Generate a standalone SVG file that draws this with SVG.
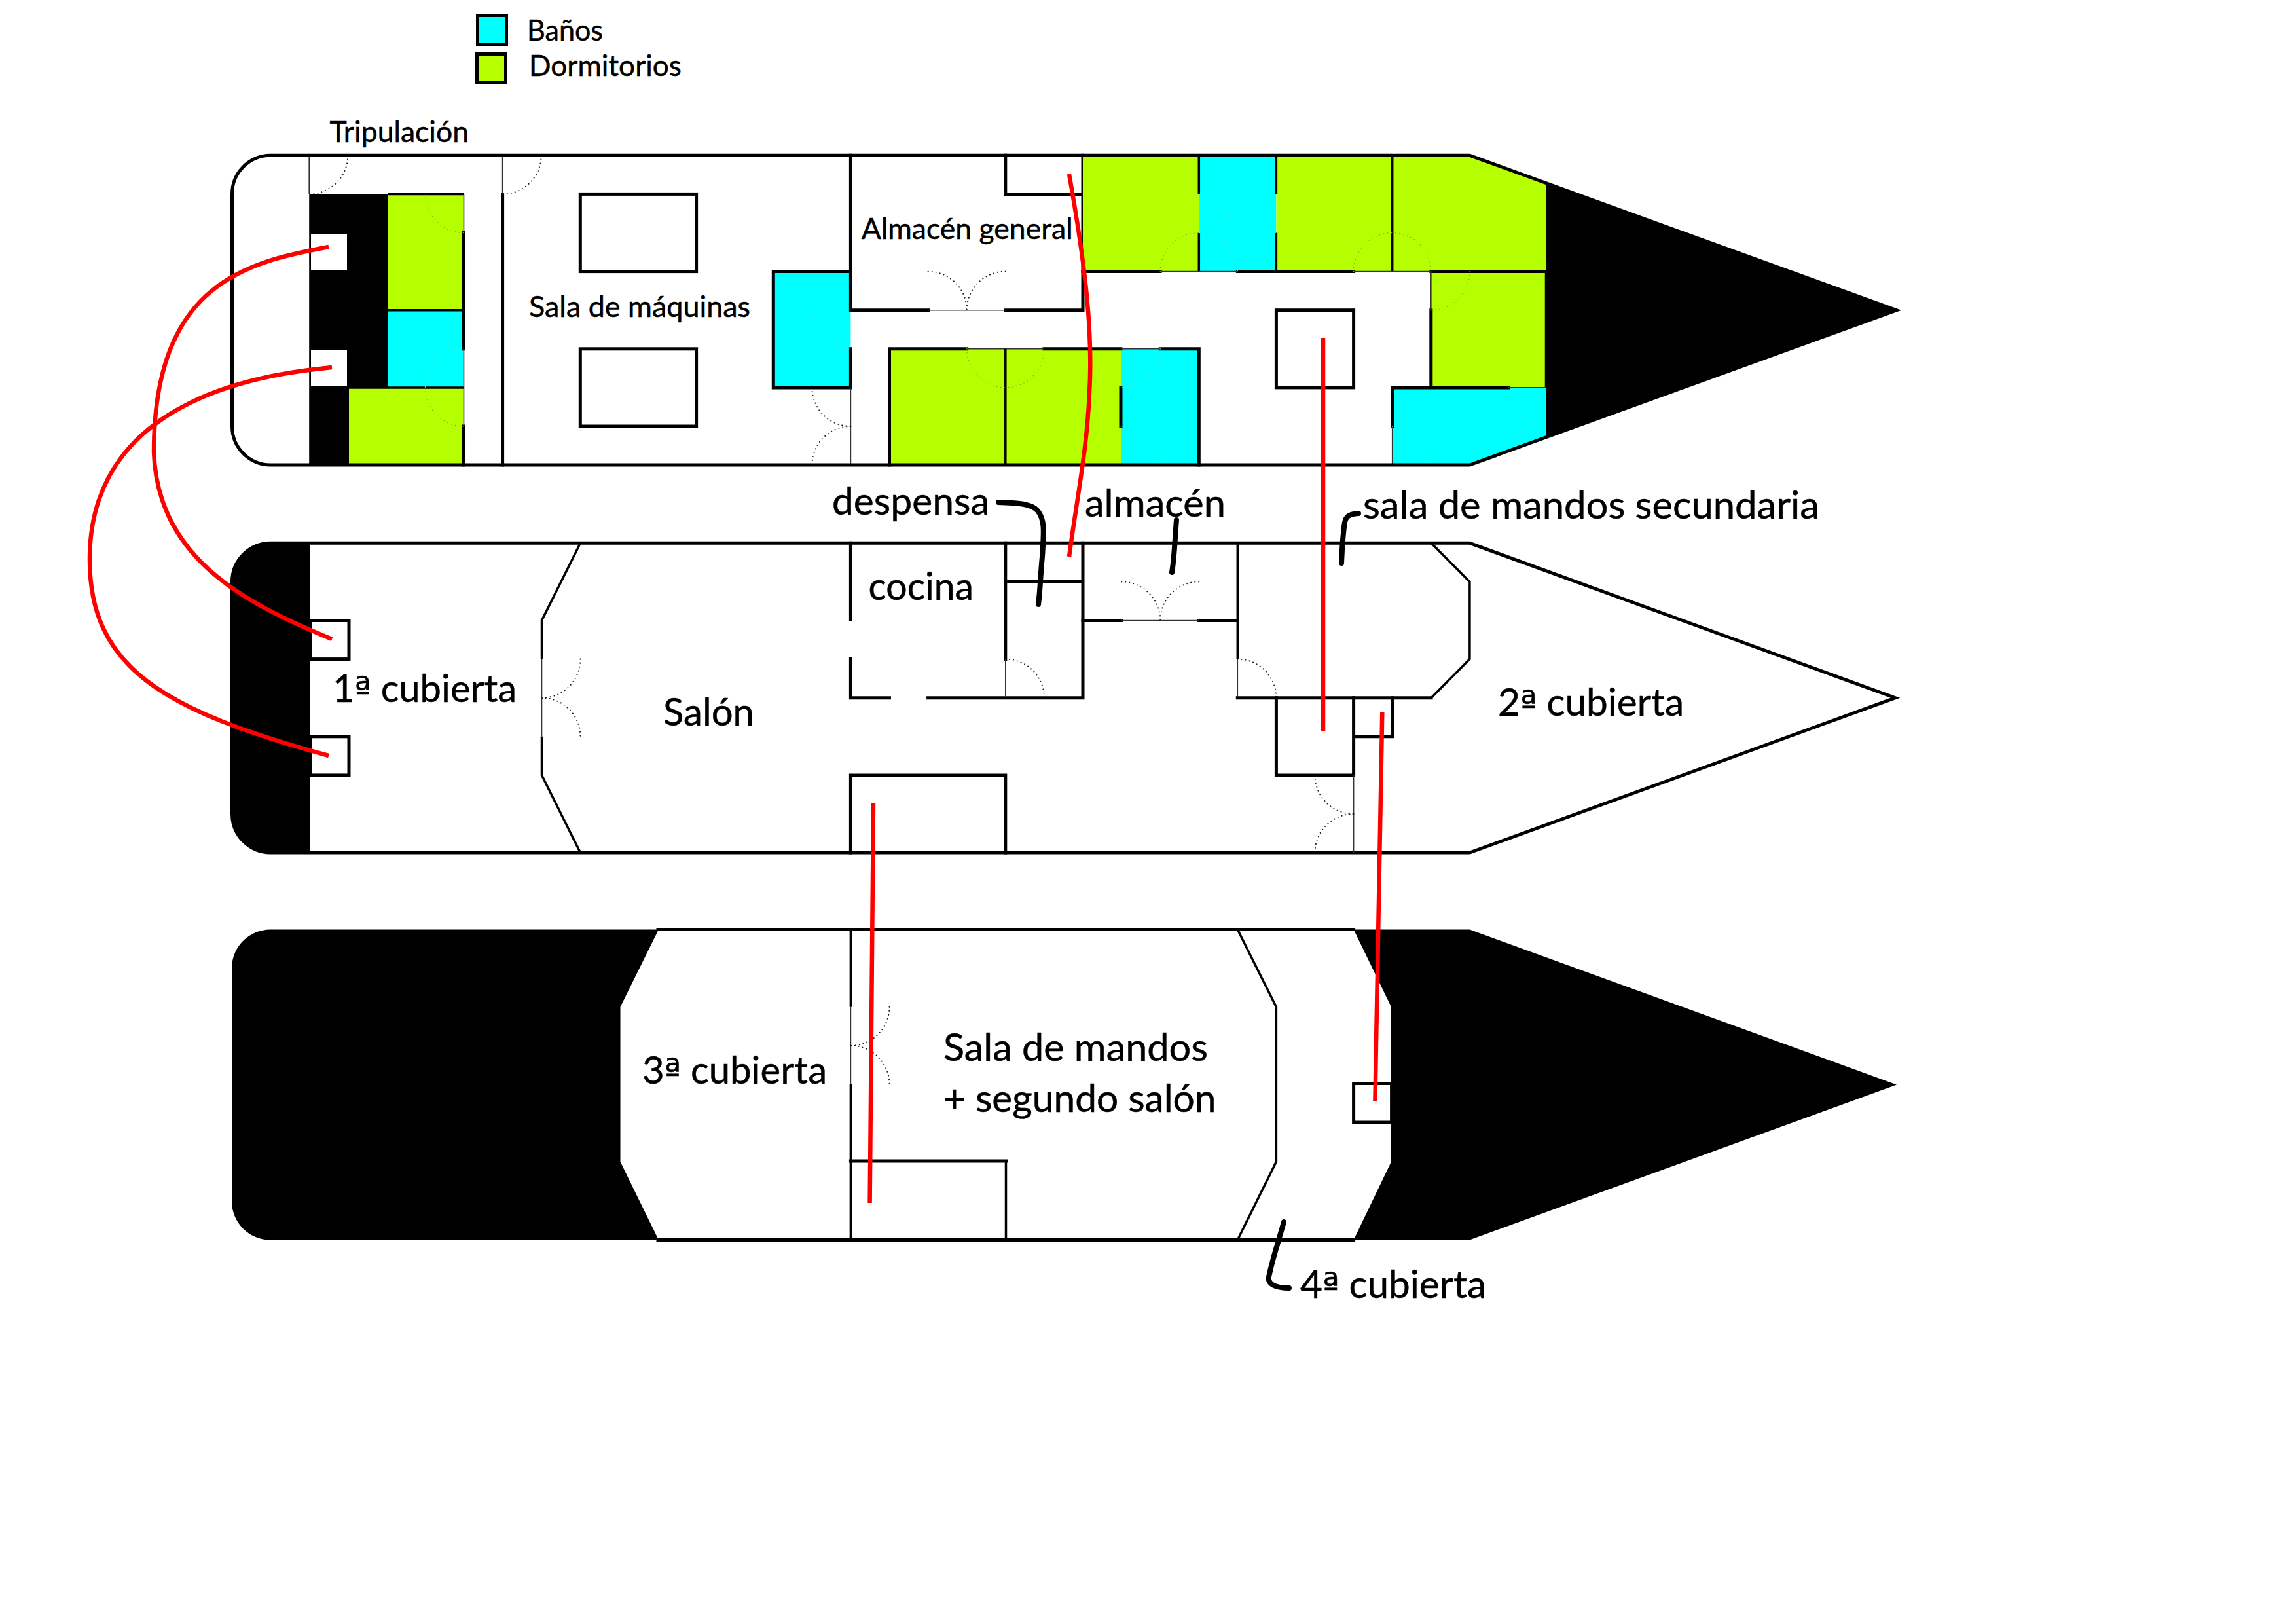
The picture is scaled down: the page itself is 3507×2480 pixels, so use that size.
<svg xmlns="http://www.w3.org/2000/svg" width="3507" height="2480" viewBox="0 0 3507 2480">
<style>
.w{fill:none;stroke:#000;stroke-width:5;stroke-linecap:square}
.m{fill:none;stroke:#000;stroke-width:3.5;stroke-linecap:butt}
.t{fill:none;stroke:#333;stroke-width:1.6}
.b{fill:#000;stroke:none}
.g{fill:#b5ff00;stroke:none}
.c{fill:#00ffff;stroke:none}
.d{fill:none;stroke:#222;stroke-width:2;stroke-linecap:round;stroke-dasharray:.1 6}
.dg{fill:none;stroke:#7fae10;stroke-width:1.4;stroke-linecap:round;stroke-dasharray:.1 6}
.dc{fill:none;stroke:#70e0e0;stroke-width:1.4;stroke-linecap:round;stroke-dasharray:.1 6}
.red{fill:none;stroke:#ff0000;stroke-width:6.5}
.pen{fill:none;stroke:#000;stroke-width:8;stroke-linecap:round;stroke-linejoin:round}
text{font-family:"Lato","Liberation Sans",sans-serif;fill:#000;stroke:#000;stroke-width:.5}
.s{font-size:44px}
.l{font-size:58px}
.o{font-family:"DejaVu Sans",sans-serif;font-size:54px}
</style>
<rect width="3507" height="2480" fill="#fff"/>

<g id="leyenda">
<rect x="729.5" y="23.5" width="44" height="44" fill="#00ffff" stroke="#000" stroke-width="5"/>
<rect x="728.5" y="82.5" width="44" height="44" fill="#b5ff00" stroke="#000" stroke-width="5"/>
<text class="s" x="805" y="62" textLength="116" lengthAdjust="spacingAndGlyphs">Baños</text>
<text class="s" x="808" y="115.5" textLength="233" lengthAdjust="spacingAndGlyphs">Dormitorios</text>
</g>

<g id="cubierta-inferior" transform="translate(0 .8)">
<g id="tripulacion">
<path class="b" d="M472.2 295.6H592V591.1H533V709.3H472.2Z"/>
<rect x="475" y="357" width="55" height="55" fill="#fff"/>
<rect x="475" y="534" width="55" height="55" fill="#fff"/>
<rect class="g" x="592" y="295.6" width="116.5" height="177.3"/>
<rect class="c" x="592" y="472.9" width="116.5" height="118.2"/>
<rect class="g" x="533" y="591.1" width="175.5" height="118.2"/>
<path class="m" d="M592 472.9H708.5M533 591.1H708.5M592 295.6H708.5"/>
<path class="w" d="M708.5 354.7V532M708.5 650.2V709.3"/>
<path class="t" d="M708.5 295.6V354.7M708.5 532V650.2M472.2 236.5V295.6"/>
<path class="d" d="M531.3 236.5A59 59 0 0 1 472.2 295.6"/>
<path class="dg" d="M649.5 295.6A59 59 0 0 0 708.5 354.7M649.5 591.1A59 59 0 0 0 708.5 650.2"/>
<path class="dc" d="M708.5 532A59 59 0 0 0 649.5 591.1"/>
</g>
<g id="sala-maquinas">
<path class="w" d="M767.6 295.6V709.3"/>
<path class="t" d="M767.6 236.5V295.6"/>
<path class="d" d="M826.7 236.5A59 59 0 0 1 767.6 295.6"/>
<rect class="w" x="886.3" y="295.6" width="177.3" height="118.2"/>
<rect class="w" x="886.3" y="532" width="177.3" height="118.2"/>
</g>
<g id="bano-maquinas">
<rect class="c" x="1181.3" y="413.8" width="118.1" height="177.3"/>
<path class="w" d="M1299.4 532V591.1H1181.3V413.8H1299.4"/>
<path class="dc" d="M1240.4 472.9A59 59 0 0 0 1299.4 532"/>
<path class="t" d="M1299.4 591.1V709.3"/>
<path class="d" d="M1240.4 591.1A59 59 0 0 0 1299.4 650.2M1299.4 650.2A59 59 0 0 0 1240.4 709.3"/>
</g>
<g id="almacen-general">
<path class="w" d="M1299.4 236.5V472.9H1417.6M1535.8 472.9H1654V236.5M1535.8 236.5V295.6H1654"/>
<path class="t" d="M1417.6 472.9H1535.8"/>
<path class="d" d="M1417.6 413.8A59 59 0 0 1 1476.7 472.9M1535.8 413.8A59 59 0 0 0 1476.7 472.9"/>
</g>
<g id="camarotes-centro">
<rect class="g" x="1358.5" y="532" width="353.5" height="177.3"/>
<rect class="c" x="1712" y="532" width="119.3" height="177.3"/>
<path class="w" d="M1476.7 532H1358.5V709.3M1594.9 532H1712M1772.2 532H1831.3V709.3M1712 591.1V650.2"/>
<path class="t" d="M1476.7 532H1594.9M1712 532H1772.2"/>
<path class="m" d="M1535.8 532V709.3"/>
<path class="dg" d="M1476.7 532A59 59 0 0 0 1594.9 532"/>
<path class="dc" d="M1772.2 532A59 59 0 0 1 1713.1 591.1M1713.1 650.2A59 59 0 0 1 1772.2 709.3"/>
</g>
<g id="camarotes-popa">
<rect class="g" x="1654" y="236.5" width="177.3" height="177.3"/>
<rect class="c" x="1831.3" y="236.5" width="118.1" height="177.3"/>
<path class="g" d="M1949.4 236.5H2244.9L2361.5 279V413.8H1949.4Z"/>
<path class="g" d="M2185.8 413.8H2361.5V591.1H2185.8Z"/>
<path class="c" d="M2126.7 591.1H2361.5V666.6L2244.9 709.3H2126.7Z"/>
<path class="m" d="M1831.3 236.5V295.6M1831.3 354.7V413.8M1949.4 236.5V295.6M1949.4 354.7V413.8M2126.7 236.5V413.8M2361.5 414V591"/>
<path class="w" d="M1654 413.8H1772.2M1890.3 413.8H2067.6M2185.8 413.8H2361.5M2185.8 472.9V591.1M2126.7 650.2V591.1H2304"/>
<path class="t" d="M1772.2 413.8H1890.3M2067.6 413.8H2185.8M2185.8 413.8V472.9M2126.7 650.2V709.3M2304 591.1H2361.5"/>
<path class="dg" d="M1772.2 413.8A59 59 0 0 1 1831.3 354.7M2067.6 413.8A59 59 0 0 1 2185.8 413.8M2244.9 413.8A59 59 0 0 1 2185.8 472.9"/>
<path class="dc" d="M1831.3 354.7A59 59 0 0 1 1890.3 413.8M1890.3 295.6A59 59 0 0 1 1831.3 354.7M1890.3 295.6A59 59 0 0 0 1949.4 354.7M2304 591.1A59 59 0 0 0 2363.1 650.2M2126.7 650.2A59 59 0 0 1 2185.8 709.3"/>
</g>
<g id="pieza-central"><rect class="w" x="1949.4" y="472.9" width="118.2" height="118.2"/></g>
<g id="proa-inferior"><path class="b" d="M2361.5 279L2897 473L2361.5 666.6Z"/></g>
<g id="casco-inferior"><path class="w" d="M413 236.5H2244.9L2897 473L2244.9 709.3H413A59 59 0 0 1 354.5 650.2V295.6A59 59 0 0 1 413 236.5Z"/></g>
<text class="s" x="503.5" y="216.5" textLength="212.5" lengthAdjust="spacingAndGlyphs">Tripulación</text>
<text class="s" x="808" y="483.5" textLength="338" lengthAdjust="spacingAndGlyphs">Sala de máquinas</text>
<text class="s" x="1315.7" y="364.5" textLength="323" lengthAdjust="spacingAndGlyphs">Almacén general</text>
</g>

<g id="cubierta-2" transform="translate(0 1)">
<g id="popa-2"><path class="b" d="M474 828.3H413A59 59 0 0 0 354 887.4V1242A59 59 0 0 0 413 1301.1H474Z"/></g>
<g id="casco-2"><path class="w" d="M413 828.3H2244.9L2895 1064.7L2244.9 1301.1H413A59 59 0 0 1 354.5 1242V887.4A59 59 0 0 1 413 828.3Z"/></g>
<g id="huecos-popa">
<rect class="w" x="474" y="946.5" width="59" height="59.1"/>
<rect class="w" x="474" y="1123.8" width="59" height="59.1"/>
</g>
<g id="salon">
<path class="m" d="M886.5 828.3L827.5 946.5V1005.6M827.5 1123.8V1182.9L886.5 1301.1"/>
<path class="t" d="M827.5 1005.6V1123.8"/>
<path class="d" d="M886.5 1005.6A59 59 0 0 1 827.5 1064.7M827.5 1064.7A59 59 0 0 1 886.5 1123.8"/>
<path class="w" d="M1299.4 1301.1V1182.9H1535.8V1301.1"/>
</g>
<g id="cocina">
<path class="w" d="M1299.4 828.3V945M1299.4 1005.6V1064.7H1358.5M1417.6 1064.7H1654V828.3M1535.8 828.3V1005.6M1535.8 887.4H1654"/>
<path class="t" d="M1535.8 1005.6V1064.7"/>
<path class="d" d="M1535.8 1005.6A59 59 0 0 1 1594.9 1064.7"/>
</g>
<g id="almacen">
<path class="w" d="M1654 946.5H1713.1M1831.3 946.5H1890.3"/>
<path class="t" d="M1713.1 946.5H1831.3"/>
<path class="d" d="M1713.1 887.4A59 59 0 0 1 1772.2 946.5M1831.3 887.4A59 59 0 0 0 1772.2 946.5"/>
</g>
<g id="sala-mandos-secundaria">
<path class="m" d="M1890.3 828.3V1005.6M2186 828.3L2244.9 887.4V1005.6L2186 1064.7"/>
<path class="t" d="M1890.3 1005.6V1064.7"/>
<path class="w" d="M1890.3 1064.7H2186"/>
<path class="d" d="M1890.3 1005.6A59 59 0 0 1 1949.4 1064.7"/>
<path class="w" d="M1949.4 1064.7V1182.9H2067.6V1064.7M2067.6 1123.8H2126.7V1064.7"/>
<path class="t" d="M2067.6 1182.9V1301.1"/>
<path class="d" d="M2008.5 1182.9A59 59 0 0 0 2067.6 1242M2067.6 1242A59 59 0 0 0 2008.5 1301.1"/>
</g>
<text class="l" x="1271" y="785" textLength="240.5" lengthAdjust="spacingAndGlyphs">despensa</text>
<text class="l" x="1657" y="788" textLength="215" lengthAdjust="spacingAndGlyphs">almacén</text>
<text class="l" x="2082" y="791" textLength="697" lengthAdjust="spacingAndGlyphs">sala de mandos secundaria</text>
<text class="l" x="1326.5" y="915" textLength="160.5" lengthAdjust="spacingAndGlyphs">cocina</text>
<text class="l" x="508" y="1071" textLength="281" lengthAdjust="spacingAndGlyphs">1<tspan class="o">ª</tspan> cubierta</text>
<text class="l" x="1013" y="1107" textLength="139" lengthAdjust="spacingAndGlyphs">Salón</text>
<text class="l" x="2288" y="1092" textLength="284" lengthAdjust="spacingAndGlyphs">2<tspan class="o">ª</tspan> cubierta</text>
</g>

<g id="cubierta-3-4">
<g id="negro-popa"><path class="b" d="M413 1419.5H1006L947.5 1537.7V1774.1L1006 1893.5H413A59 59 0 0 1 354 1834.4V1478.6A59 59 0 0 1 413 1419.5Z"/></g>
<g id="negro-proa"><path class="b" d="M2067.6 1419.5H2244.9L2897 1656.5L2244.9 1893.5H2067.6L2125 1774.1V1537.7Z"/></g>
<g id="casco-3"><path class="w" d="M1005 1419.5H2067.6M1005 1893.5H2067.6"/></g>
<g id="sala-de-mandos">
<path class="m" d="M1299.4 1419.5V1537.7M1299.4 1655.9V1893.5M1890.3 1419.5L1949.4 1537.7V1774.1L1890.3 1893.5"/>
<path class="t" d="M1299.4 1537.7V1655.9"/>
<path class="d" d="M1358.5 1537.7A59 59 0 0 1 1299.4 1596.8M1299.4 1596.8A59 59 0 0 1 1358.5 1655.9"/>
<path class="m" d="M1536.5 1893.5V1773"/>
<path class="w" d="M1299.4 1773H1536.5"/>
</g>
<g id="hueco-4"><rect class="w" x="2067.6" y="1654.5" width="58" height="59.5"/></g>
<text class="l" x="981" y="1655" textLength="282" lengthAdjust="spacingAndGlyphs">3<tspan class="o">ª</tspan> cubierta</text>
<text class="l" x="1441" y="1620" textLength="404" lengthAdjust="spacingAndGlyphs">Sala de mandos</text>
<text class="l" x="1441" y="1697.5" textLength="416.5" lengthAdjust="spacingAndGlyphs">+ segundo salón</text>
<text class="l" x="1986" y="1982" textLength="284" lengthAdjust="spacingAndGlyphs">4<tspan class="o">ª</tspan> cubierta</text>
</g>

<g id="conectores">
<path class="red" d="M502 377C380 400 235 430 235 690C240 850 370 920 507 976"/>
<path class="red" d="M507 561C420 570 140 600 137 850C135 1020 250 1085 502 1154"/>
<path class="red" d="M1633 266C1655 390 1670 500 1664 600C1660 690 1645 760 1633 850"/>
<path class="red" d="M2021 516V1117"/>
<path class="red" d="M1334 1227L1328.6 1837"/>
<path class="red" d="M2111.3 1087L2100.4 1681"/>
<path class="pen" d="M1525 767C1550 768 1575 768 1585 780C1597 795 1594 815 1592 850C1589 880 1589 900 1586 923"/>
<path class="pen" d="M1797 794C1794 830 1794 850 1790 874"/>
<path class="pen" d="M2075 784C2058 785 2054 790 2053 805C2050 830 2050 840 2049 860"/>
<path class="pen" d="M1961 1866C1950 1905 1943 1925 1938 1950C1936 1962 1950 1967 1969 1967"/>
</g>
</svg>
